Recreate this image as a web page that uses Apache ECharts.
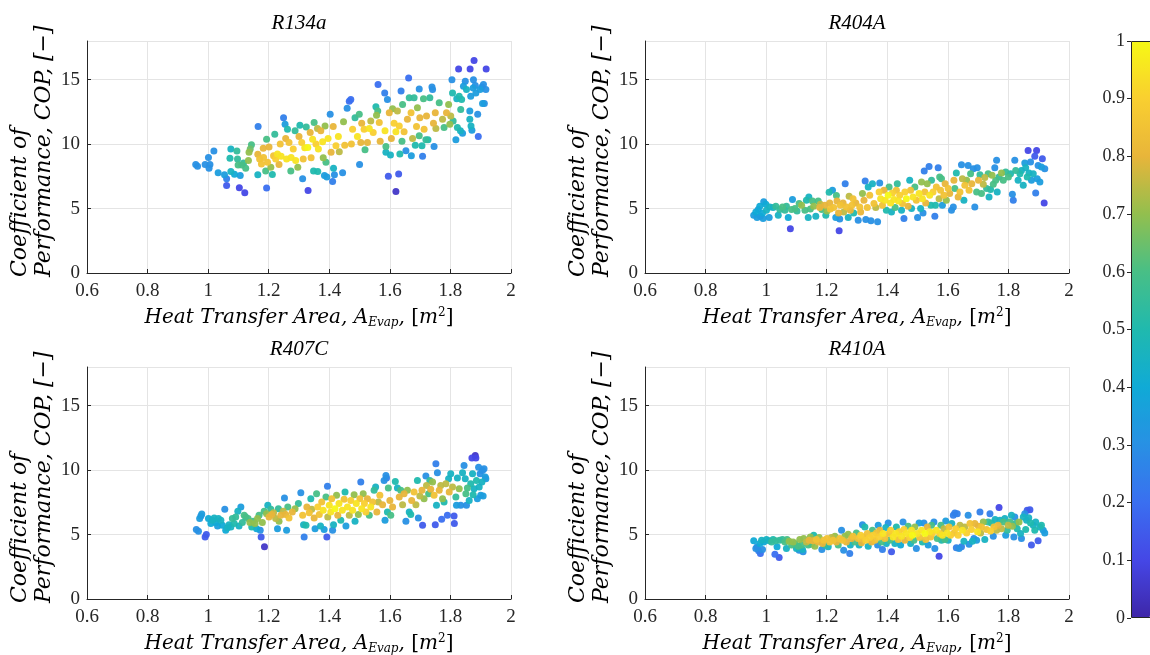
<!DOCTYPE html>
<html><head><meta charset="utf-8">
<script src="https://cdn.jsdelivr.net/npm/echarts@6/dist/echarts.min.js"></script>
<style>html,body{margin:0;padding:0;background:#fff}#c{width:1150px;height:655px}</style>
</head><body><div id="c"></div>
<script>
// ---------------- data ----------------
const refrigerants = ['R134a', 'R404A', 'R407C', 'R410A'];
const xTickValues = [0.6, 0.8, 1, 1.2, 1.4, 1.6, 1.8, 2];
const yTickValues = [0, 5, 10, 15];
const yAxisMax = 18;
const colorTickValues = [0, 0.1, 0.2, 0.3, 0.4, 0.5, 0.6, 0.7, 0.8, 0.9, 1];

// [heat transfer area, COP, colour value]
const r134a = [
[0.959,8.41,.3],[0.965,8.28,.3],[0.990,8.41,.3],[1.001,8.97,.3],[1.006,8.41,.3],[1.003,8.13,.3],[1.019,9.46,.3],[1.033,7.77,.35],[1.054,7.62,.35],[1.061,7.31,.25],
[1.061,6.79,.15],[1.075,9.62,.45],[1.072,8.90,.5],[1.075,7.87,.45],[1.087,7.67,.4],[1.095,9.46,.55],[1.097,8.85,.55],[1.099,8.38,.6],[1.106,7.56,.35],[1.103,6.62,.1],
[1.111,8.38,.6],[1.117,8.54,.55],[1.121,6.23,.1],[1.124,8.13,.6],[1.135,9.36,.7],[1.139,9.62,.65],[1.133,8.72,.7],[1.143,9.95,.6],[1.165,11.36,.25],[1.164,7.62,.45],
[1.164,9.21,.8],[1.170,8.85,.85],[1.176,8.46,.85],[1.182,9.67,.8],[1.183,8.97,.85],[1.193,10.38,.6],[1.193,6.59,.2],[1.190,7.92,.6],[1.196,8.59,.85],[1.201,9.77,.8],
[1.207,8.21,.7],[1.212,7.64,.5],[1.216,9.10,.85],[1.220,10.77,.55],[1.223,8.85,.9],[1.229,9.23,.95],[1.234,8.41,.8],[1.238,10.0,.85],[1.241,9.05,.95],[1.249,12.05,.25],
[1.254,11.54,.35],[1.256,10.44,.8],[1.259,8.85,.95],[1.262,11.15,.5],[1.267,10.13,.85],[1.273,7.92,.6],[1.274,8.97,.95],[1.281,9.62,.9],[1.287,11.03,.55],[1.289,8.72,.95],
[1.296,8.21,.7],[1.300,10.59,.8],[1.303,11.46,.5],[1.309,10.13,.9],[1.312,7.31,.3],[1.314,8.85,.85],[1.319,9.72,.95],[1.324,11.33,.55],[1.329,9.74,1],[1.330,6.41,.1],
[1.337,10.90,.8],[1.340,8.95,.85],[1.345,10.38,.95],[1.348,7.92,.5],[1.350,11.67,.6],[1.356,10.0,.9],[1.361,11.21,.75],[1.362,7.87,.5],[1.364,9.62,.95],[1.372,11.03,.8],
[1.378,10.18,.95],[1.380,8.95,.7],[1.384,7.56,.35],[1.386,11.41,.7],[1.389,8.59,.6],[1.392,7.44,.35],[1.396,10.44,.95],[1.403,12.31,.3],[1.406,9.36,.8],[1.411,7.10,.25],
[1.413,11.36,.8],[1.414,8.13,.45],[1.417,7.62,.3],[1.422,9.87,.9],[1.430,10.59,.95],[1.433,9.41,.75],[1.444,7.77,.3],[1.447,11.74,.7],[1.451,9.92,.85],[1.459,12.79,.3],
[1.466,13.33,.2],[1.471,13.46,.2],[1.473,10.0,.85],[1.477,11.15,.9],[1.485,12.05,.55],[1.493,10.59,.95],[1.499,12.31,.6],[1.500,8.41,.3],[1.504,10.13,.8],[1.507,11.62,.8],
[1.515,11.15,.9],[1.518,9.56,.6],[1.526,10.13,.8],[1.532,11.21,.95],[1.537,11.79,.75],[1.545,10.90,.9],[1.554,12.90,.5],[1.556,12.23,.7],[1.560,12.56,.6],[1.561,14.62,.2],
[1.565,11.67,.85],[1.568,10.23,.8],[1.583,13.97,.25],[1.584,11.03,.95],[1.587,9.82,.6],[1.587,9.36,.45],[1.592,13.46,.3],[1.595,7.51,.15],[1.598,12.44,.8],[1.602,9.15,.45],
[1.605,10.44,.8],[1.609,12.74,.7],[1.614,11.62,.9],[1.620,10.95,.95],[1.620,6.33,.05],[1.625,12.56,.75],[1.629,7.69,.15],[1.631,11.41,.9],[1.633,9.23,.5],[1.637,14.13,.25],
[1.640,10.23,.6],[1.642,13.08,.6],[1.647,10.95,.85],[1.653,9.49,.3],[1.658,11.92,.8],[1.662,15.13,.2],[1.664,13.59,.55],[1.670,12.44,.85],[1.671,9.10,.35],[1.675,10.44,.75],
[1.680,13.59,.55],[1.684,9.92,.5],[1.688,11.36,.85],[1.691,12.82,.7],[1.697,14.28,.3],[1.697,10.64,.6],[1.699,12.05,.8],[1.706,9.87,.5],[1.708,9.05,.25],[1.711,13.51,.6],
[1.713,11.15,.85],[1.719,10.33,.55],[1.721,12.18,.8],[1.726,10.33,.5],[1.732,13.59,.55],[1.739,14.44,.3],[1.741,14.23,.3],[1.744,11.62,.8],[1.746,9.82,.3],[1.750,12.44,.8],
[1.752,11.21,.75],[1.763,13.21,.6],[1.774,11.92,.75],[1.779,11.28,.6],[1.787,12.44,.8],[1.794,13.08,.7],[1.798,11.54,.7],[1.801,12.18,.75],[1.805,15.0,.3],[1.807,13.97,.5],
[1.809,11.79,.55],[1.818,10.33,.35],[1.821,13.51,.45],[1.823,11.28,.5],[1.827,15.82,.1],[1.829,13.72,.5],[1.833,11.03,.45],[1.834,12.69,.55],[1.837,13.46,.5],[1.840,10.85,.35],
[1.843,14.49,.35],[1.849,14.87,.3],[1.853,14.23,.45],[1.864,12.56,.35],[1.864,11.92,.45],[1.865,15.82,.1],[1.867,13.72,.35],[1.868,11.41,.45],[1.871,11.08,.35],[1.875,14.36,.35],
[1.876,15.0,.3],[1.878,16.49,.1],[1.882,14.54,.3],[1.884,13.97,.35],[1.890,12.31,.3],[1.892,10.59,.2],[1.898,14.23,.35],[1.904,14.44,.3],[1.906,13.15,.35],[1.909,14.62,.3],
[1.912,13.15,.3],[1.918,15.82,.1],[1.917,14.23,.3]
];

const r404a = [
[0.959,4.48,.35],[0.966,4.74,.4],[0.970,4.30,.35],[0.974,4.92,.35],[0.979,5.18,.4],[0.981,4.41,.3],[0.988,4.66,.4],[0.990,4.23,.35],[0.992,5.52,.35],[0.999,5.34,.4],
[1.001,4.87,.45],[1.010,4.30,.35],[1.012,5.13,.45],[1.023,5.08,.45],[1.032,5.18,.55],[1.040,4.48,.45],[1.045,4.92,.55],[1.054,5.13,.6],[1.062,4.87,.55],[1.067,5.18,.55],
[1.073,4.30,.4],[1.080,3.43,.1],[1.084,4.92,.6],[1.087,5.70,.35],[1.095,5.0,.6],[1.102,4.82,.55],[1.109,5.39,.6],[1.117,5.26,.7],[1.128,4.87,.6],[1.133,5.64,.5],
[1.139,4.30,.45],[1.141,5.90,.45],[1.146,4.97,.6],[1.153,5.59,.6],[1.157,5.18,.7],[1.164,4.41,.45],[1.172,5.59,.6],[1.177,5.08,.8],[1.179,5.34,.75],[1.184,4.92,.6],
[1.194,5.26,.8],[1.197,4.48,.5],[1.201,4.82,.7],[1.208,6.26,.5],[1.210,5.44,.8],[1.212,4.97,.85],[1.219,6.42,.35],[1.223,5.08,.85],[1.230,4.30,.35],[1.232,6.01,.6],
[1.234,5.59,.8],[1.239,4.66,.8],[1.241,3.27,.1],[1.243,4.18,.3],[1.245,5.26,.85],[1.254,5.44,.8],[1.256,4.74,.75],[1.261,6.93,.25],[1.265,5.13,.85],[1.271,4.30,.45],
[1.274,5.95,.75],[1.278,4.87,.8],[1.283,5.26,.85],[1.287,5.77,.85],[1.289,4.66,.5],[1.296,5.44,.8],[1.304,4.10,.3],[1.309,5.13,.85],[1.312,4.74,.8],[1.318,6.16,.7],
[1.323,5.64,.8],[1.327,7.14,.25],[1.329,4.15,.3],[1.334,5.08,.85],[1.337,6.68,.45],[1.342,6.03,.85],[1.346,4.05,.3],[1.351,6.93,.45],[1.356,5.39,.85],[1.362,5.08,.75],
[1.368,3.97,.3],[1.373,6.29,.9],[1.375,6.98,.3],[1.378,5.77,.95],[1.384,5.26,.85],[1.389,6.42,.8],[1.393,5.64,.95],[1.397,4.87,.5],[1.403,6.03,1],[1.406,6.68,.6],
[1.411,5.44,.95],[1.414,4.74,.45],[1.417,6.21,.9],[1.422,5.70,.95],[1.426,5.08,.6],[1.430,6.42,.85],[1.433,6.93,.55],[1.437,5.59,.95],[1.441,6.03,.9],[1.447,4.87,.45],
[1.450,5.39,.85],[1.455,4.23,.25],[1.458,6.29,.9],[1.463,5.77,1],[1.469,5.18,.8],[1.474,7.19,.45],[1.477,6.42,.85],[1.480,5.0,.45],[1.485,5.90,.95],[1.491,6.68,.6],
[1.496,5.64,.85],[1.500,4.30,.3],[1.505,6.16,.95],[1.510,5.0,.45],[1.513,7.06,.7],[1.516,5.77,.95],[1.518,4.66,.3],[1.522,7.91,.25],[1.524,6.29,.85],[1.527,5.44,.8],
[1.532,6.93,.7],[1.538,8.27,.25],[1.540,6.03,.95],[1.544,5.26,.5],[1.546,7.19,.55],[1.551,6.29,.9],[1.557,4.41,.25],[1.559,5.26,.5],[1.562,6.68,.85],[1.568,8.17,.25],
[1.571,5.77,.75],[1.573,7.45,.6],[1.576,6.42,.85],[1.579,7.32,.6],[1.582,5.26,.35],[1.587,6.03,.85],[1.591,6.93,.8],[1.595,5.64,.7],[1.601,6.55,.85],[1.606,6.16,.8],
[1.612,4.87,.3],[1.618,5.13,.3],[1.620,7.19,.8],[1.623,6.55,.6],[1.628,7.76,.5],[1.634,5.90,.8],[1.640,6.29,.85],[1.645,8.40,.3],[1.648,7.32,.75],[1.653,5.64,.45],
[1.656,6.80,.85],[1.662,7.19,.7],[1.667,8.35,.3],[1.670,6.42,.85],[1.675,7.71,.6],[1.679,6.93,.8],[1.684,8.09,.3],[1.689,5.13,.3],[1.695,6.29,.6],[1.697,8.17,.3],
[1.701,7.19,.8],[1.706,7.63,.55],[1.711,6.16,.6],[1.717,6.88,.75],[1.722,7.40,.75],[1.728,6.55,.55],[1.733,7.71,.6],[1.736,5.90,.45],[1.741,6.47,.5],[1.746,7.58,.7],
[1.750,6.88,.6],[1.755,8.17,.3],[1.758,7.19,.6],[1.761,8.74,.3],[1.763,6.29,.45],[1.769,7.45,.55],[1.777,7.76,.7],[1.783,7.19,.6],[1.791,7.84,.55],[1.800,7.45,.6],
[1.807,7.71,.5],[1.813,6.11,.3],[1.816,5.64,.25],[1.821,8.74,.3],[1.824,7.96,.55],[1.832,7.19,.45],[1.838,7.71,.5],[1.843,7.96,.45],[1.849,6.80,.45],[1.854,8.53,.35],
[1.857,8.17,.45],[1.862,7.45,.5],[1.865,9.51,.1],[1.868,7.76,.45],[1.873,8.61,.3],[1.876,7.19,.35],[1.882,7.71,.45],[1.887,9.05,.15],[1.890,6.21,.25],[1.893,9.51,.1],
[1.895,7.32,.35],[1.898,8.35,.3],[1.904,7.06,.35],[1.909,8.22,.35],[1.912,8.87,.15],[1.918,5.44,.1],[1.920,8.09,.3]
];

const r407c = [
[0.961,5.39,.3],[0.968,5.26,.3],[0.972,6.24,.35],[0.976,6.44,.3],[0.979,6.60,.35],[0.990,4.82,.15],[0.994,5.0,.15],[1.001,6.24,.4],[1.009,5.85,.4],[1.014,6.11,.45],
[1.020,6.29,.45],[1.025,5.93,.4],[1.031,5.67,.35],[1.034,6.24,.45],[1.042,6.11,.45],[1.047,5.72,.4],[1.055,6.96,.3],[1.058,5.34,.4],[1.064,5.52,.45],[1.069,5.77,.45],
[1.075,5.59,.45],[1.080,6.24,.55],[1.086,5.85,.5],[1.091,6.37,.55],[1.098,6.80,.45],[1.102,5.67,.45],[1.108,7.14,.35],[1.113,5.93,.55],[1.119,6.49,.6],[1.124,6.37,.55],
[1.132,6.24,.6],[1.138,5.93,.7],[1.144,5.59,.5],[1.149,6.03,.6],[1.155,5.85,.7],[1.160,5.46,.4],[1.163,6.24,.7],[1.168,6.49,.6],[1.172,5.34,.3],[1.175,4.82,.15],
[1.179,5.93,.7],[1.185,6.80,.6],[1.186,4.05,.05],[1.193,6.62,.7],[1.197,7.27,.45],[1.201,6.37,.8],[1.207,6.96,.55],[1.210,6.55,.8],[1.216,6.70,.75],[1.223,6.24,.75],
[1.229,5.46,.35],[1.232,7.01,.55],[1.234,6.03,.7],[1.240,6.49,.8],[1.248,6.80,.75],[1.252,7.84,.3],[1.256,6.55,.8],[1.259,5.34,.35],[1.263,7.14,.6],[1.267,6.29,.85],
[1.278,6.75,.8],[1.287,7.01,.7],[1.298,7.40,.55],[1.306,8.25,.3],[1.312,6.49,.85],[1.315,5.77,.45],[1.317,4.82,.25],[1.323,5.72,.5],[1.326,7.14,.8],[1.334,6.70,.85],
[1.339,7.78,.5],[1.342,6.96,.75],[1.350,6.29,.8],[1.353,5.46,.35],[1.358,8.17,.6],[1.362,7.14,.9],[1.367,6.55,.85],[1.371,5.67,.45],[1.375,7.53,.85],[1.380,6.88,.95],
[1.383,5.39,.35],[1.389,7.91,.6],[1.392,4.82,.15],[1.394,8.74,.25],[1.395,6.37,.75],[1.400,7.27,.95],[1.405,6.75,.95],[1.408,7.78,.85],[1.411,5.34,.3],[1.414,5.77,.45],
[1.419,7.01,1],[1.424,8.04,.7],[1.428,6.49,.8],[1.432,7.40,.95],[1.438,6.11,.5],[1.443,6.88,.95],[1.449,7.73,.85],[1.452,8.30,.5],[1.455,5.67,.35],[1.460,7.14,.95],
[1.466,6.49,.75],[1.471,7.65,.9],[1.477,6.88,.95],[1.482,8.09,.7],[1.485,6.03,.45],[1.489,7.40,.95],[1.496,6.55,.7],[1.501,7.78,.85],[1.504,9.07,.25],[1.507,7.01,.95],
[1.512,8.17,.7],[1.516,7.40,.9],[1.521,6.75,.9],[1.526,7.78,.8],[1.532,6.49,.6],[1.537,7.14,.95],[1.543,7.53,.85],[1.548,8.43,.55],[1.553,8.69,.45],[1.557,6.75,.8],
[1.562,7.53,.75],[1.567,8.04,.85],[1.576,7.32,.8],[1.581,9.20,.3],[1.584,6.11,.35],[1.587,9.59,.3],[1.589,9.38,.25],[1.592,6.75,.5],[1.595,8.61,.6],[1.600,7.65,.8],
[1.603,6.49,.6],[1.609,7.14,.8],[1.618,9.12,.5],[1.625,8.61,.45],[1.631,7.91,.8],[1.636,8.43,.6],[1.642,7.32,.75],[1.647,8.17,.8],[1.653,6.03,.3],[1.658,8.43,.7],
[1.664,6.75,.45],[1.669,6.55,.5],[1.672,7.65,.8],[1.680,8.30,.85],[1.686,7.32,.75],[1.691,9.20,.5],[1.694,6.29,.3],[1.699,7.99,.75],[1.706,8.43,.8],[1.708,5.72,.15],
[1.713,7.78,.7],[1.719,9.54,.3],[1.721,8.81,.75],[1.728,8.17,.6],[1.732,9.20,.55],[1.735,8.51,.8],[1.741,9.07,.7],[1.746,8.04,.85],[1.750,5.77,.15],[1.752,10.49,.25],
[1.754,7.27,.45],[1.757,9.79,.3],[1.763,8.43,.8],[1.768,8.81,.75],[1.771,6.19,.2],[1.774,7.78,.7],[1.779,7.53,.5],[1.785,8.94,.75],[1.790,6.49,.2],[1.794,9.33,.45],
[1.796,8.30,.8],[1.801,9.72,.45],[1.807,8.69,.75],[1.812,6.44,.15],[1.813,5.85,.15],[1.818,7.91,.55],[1.820,7.27,.35],[1.823,9.38,.45],[1.829,8.56,.7],[1.834,7.27,.3],
[1.840,9.79,.45],[1.845,10.36,.3],[1.849,9.33,.45],[1.851,8.17,.6],[1.853,7.27,.3],[1.856,8.61,.6],[1.862,7.65,.45],[1.867,8.94,.5],[1.871,10.93,.1],[1.873,9.72,.45],
[1.875,8.09,.5],[1.878,8.56,.45],[1.882,11.13,.05],[1.884,10.93,.1],[1.886,9.20,.5],[1.889,7.78,.35],[1.893,10.23,.3],[1.895,8.69,.45],[1.898,9.72,.3],[1.900,8.04,.35],
[1.904,9.07,.45],[1.906,9.97,.3],[1.908,7.99,.35],[1.911,10.10,.3],[1.915,9.46,.35],[1.917,9.33,.35]
];

const r410a = [
[0.959,4.51,.4],[0.966,3.92,.3],[0.970,4.05,.3],[0.975,3.74,.25],[0.979,4.30,.4],[0.981,3.53,.2],[0.985,4.56,.45],[0.988,3.84,.3],[0.992,4.43,.4],[1.001,4.61,.45],
[1.010,4.51,.45],[1.018,4.43,.55],[1.023,4.61,.5],[1.029,3.48,.2],[1.032,4.51,.55],[1.036,4.05,.4],[1.043,3.22,.15],[1.045,4.56,.55],[1.054,4.61,.55],[1.062,4.43,.6],
[1.067,3.92,.45],[1.069,4.61,.6],[1.076,4.48,.7],[1.084,4.18,.6],[1.089,4.43,.7],[1.095,4.30,.6],[1.100,3.92,.45],[1.106,4.10,.6],[1.109,3.79,.3],[1.111,4.61,.7],
[1.117,4.18,.6],[1.120,3.84,.45],[1.122,3.66,.3],[1.124,4.69,.7],[1.133,4.43,.75],[1.139,4.18,.6],[1.142,4.56,.8],[1.146,4.82,.7],[1.150,4.25,.6],[1.155,4.51,.8],
[1.157,4.95,.5],[1.161,4.10,.7],[1.166,4.61,.85],[1.172,4.43,.8],[1.175,4.77,.7],[1.184,3.84,.3],[1.186,4.30,.8],[1.190,4.56,.85],[1.194,4.18,.55],[1.201,4.69,.85],
[1.205,4.05,.45],[1.210,4.43,.85],[1.216,4.77,.75],[1.221,4.56,.85],[1.227,4.87,.7],[1.232,4.43,.8],[1.238,4.18,.6],[1.243,4.69,.85],[1.249,5.34,.3],[1.252,4.56,.85],
[1.256,3.79,.3],[1.260,4.87,.7],[1.265,4.43,.8],[1.271,5.03,.7],[1.276,3.53,.25],[1.278,4.18,.45],[1.282,4.69,.8],[1.287,4.87,.85],[1.293,4.43,.6],[1.298,5.13,.6],
[1.304,4.69,.85],[1.307,4.18,.45],[1.312,4.95,.9],[1.315,4.36,.8],[1.318,5.77,.3],[1.320,4.82,.85],[1.326,5.59,.5],[1.329,4.56,.9],[1.334,5.08,.85],[1.337,4.10,.45],
[1.342,4.77,.9],[1.348,4.43,.8],[1.351,5.34,.6],[1.353,4.95,.9],[1.359,4.56,.85],[1.364,5.13,.85],[1.368,4.18,.3],[1.370,5.72,.35],[1.373,4.82,.9],[1.375,5.34,.8],
[1.381,4.43,.6],[1.384,3.84,.25],[1.386,5.08,.95],[1.392,4.69,.85],[1.395,5.54,.45],[1.397,4.30,.45],[1.403,5.90,.3],[1.406,5.08,.85],[1.408,4.56,.6],[1.411,5.34,.9],
[1.414,3.66,.15],[1.419,4.82,.95],[1.425,4.30,.45],[1.428,5.08,.95],[1.430,5.59,.5],[1.436,4.61,.85],[1.439,5.21,.9],[1.444,4.18,.4],[1.447,4.87,.95],[1.452,5.98,.3],
[1.455,5.39,.9],[1.458,4.56,.8],[1.463,5.08,.95],[1.469,5.64,.6],[1.474,4.77,.9],[1.477,4.30,.45],[1.480,5.34,.95],[1.483,4.95,1],[1.488,4.56,.6],[1.491,5.59,.7],
[1.496,3.92,.3],[1.499,5.08,.95],[1.505,5.90,.35],[1.507,4.77,.85],[1.513,5.34,.95],[1.516,4.43,.5],[1.521,5.90,.3],[1.524,5.08,1],[1.527,4.61,.85],[1.532,5.59,.8],
[1.535,4.18,.35],[1.540,5.21,.95],[1.543,4.82,.85],[1.546,5.72,.6],[1.549,5.13,.9],[1.554,5.98,.3],[1.557,3.92,.3],[1.562,5.34,.95],[1.565,4.69,.6],[1.571,3.32,.1],
[1.573,5.08,.9],[1.577,5.72,.6],[1.579,4.56,.5],[1.582,4.95,.95],[1.587,5.46,.75],[1.590,4.61,.6],[1.593,6.06,.35],[1.598,5.13,.95],[1.601,4.56,.45],[1.604,5.59,.85],
[1.609,4.95,.9],[1.613,5.85,.45],[1.618,6.49,.25],[1.620,5.13,.85],[1.623,6.68,.25],[1.626,5.46,.9],[1.628,3.97,.25],[1.631,6.62,.25],[1.634,4.95,.9],[1.637,3.92,.3],
[1.640,5.72,.75],[1.645,4.05,.25],[1.648,5.34,.95],[1.653,4.48,.45],[1.656,5.59,.75],[1.662,5.13,.9],[1.667,6.49,.3],[1.670,4.25,.3],[1.673,5.85,.85],[1.678,5.39,.9],
[1.681,4.48,.45],[1.686,4.69,.3],[1.689,5.85,.8],[1.695,4.56,.35],[1.698,5.21,.95],[1.701,5.64,.8],[1.706,6.75,.25],[1.708,5.13,.75],[1.711,5.59,.85],[1.717,5.98,.7],
[1.722,4.61,.45],[1.728,5.39,.85],[1.733,5.98,.55],[1.739,6.62,.25],[1.741,5.28,.9],[1.744,5.90,.5],[1.750,4.87,.3],[1.752,5.59,.85],[1.756,6.16,.45],[1.761,5.34,.75],
[1.766,5.72,.8],[1.769,7.09,.1],[1.772,6.11,.45],[1.777,5.46,.75],[1.783,5.98,.6],[1.788,6.24,.45],[1.791,4.95,.35],[1.796,5.34,.55],[1.799,5.72,.75],[1.805,5.98,.6],
[1.810,6.49,.45],[1.813,5.64,.7],[1.818,4.82,.3],[1.821,6.37,.3],[1.824,5.85,.55],[1.829,5.46,.5],[1.835,5.98,.7],[1.840,5.08,.45],[1.843,4.69,.3],[1.849,6.37,.45],
[1.854,6.62,.3],[1.857,5.39,.5],[1.860,6.11,.45],[1.862,6.88,.15],[1.867,6.31,.45],[1.871,6.93,.15],[1.873,5.90,.5],[1.876,4.18,.15],[1.882,5.72,.45],[1.887,5.34,.5],
[1.890,5.98,.45],[1.898,4.51,.15],[1.904,5.59,.45],[1.909,5.72,.5],[1.915,5.34,.35],[1.920,5.13,.35]
];

// parula-like colormap, 0 -> 1
const parula = ['#3E26A8','#4547E6','#3A6FF0','#2890E4','#10AAD6','#20B9AE','#48BF86','#92BF4E','#E8B53A','#F9CF30','#F6F814'];

// ---------------- chart ----------------
const panelData = [r134a, r404a, r407c, r410a];
const FONT = "'Liberation Serif', 'DejaVu Serif', serif";
const TFONT = "'DejaVu Serif', 'Liberation Serif', serif";
const AX = '#262626';
const GRIDC = '#e4e4e4';
const boxes = [
  {left: 87, top: 41}, {left: 645, top: 41},
  {left: 87, top: 367}, {left: 645, top: 367}
];
const W = 424, H = 232;
const xMin = xTickValues[0], xMax = xTickValues[xTickValues.length - 1];
const xStep = +(xTickValues[1] - xTickValues[0]).toFixed(6);
const yStep = yTickValues[1] - yTickValues[0];

const grid = boxes.map(b => ({left: b.left, top: b.top, width: W, height: H, containLabel: false}));
grid.push({left: 1131, top: 41, width: 19, height: 577});

const xAxis = boxes.map((b, i) => ({
  type: 'value', gridIndex: i, min: xMin, max: xMax, interval: xStep,
  axisLine: {show: true, onZero: false, lineStyle: {color: AX, width: 1}},
  axisTick: {show: true, inside: true, length: 4, lineStyle: {color: AX}},
  axisLabel: {color: AX, fontFamily: FONT, fontSize: 19, margin: 9},
  splitLine: {show: true, lineStyle: {color: GRIDC, width: 1}}
}));
xAxis.push({type: 'value', gridIndex: 4, show: false, min: 0, max: 1});

const yAxis = boxes.map((b, i) => ({
  type: 'value', gridIndex: i, min: 0, max: yAxisMax, interval: yStep,
  axisLine: {show: true, onZero: false, lineStyle: {color: AX, width: 1}},
  axisTick: {show: true, inside: true, length: 4, lineStyle: {color: AX}},
  axisLabel: {color: AX, fontFamily: FONT, fontSize: 19, margin: 7, showMaxLabel: false},
  splitLine: {show: true, lineStyle: {color: GRIDC, width: 1}}
}));
yAxis.push({
  type: 'value', gridIndex: 4, min: colorTickValues[0], max: colorTickValues[colorTickValues.length - 1],
  interval: +(colorTickValues[1] - colorTickValues[0]).toFixed(6), position: 'left',
  axisLine: {show: false},
  axisTick: {show: true, inside: false, length: 4, lineStyle: {color: AX}},
  axisLabel: {color: AX, fontFamily: FONT, fontSize: 18, margin: 6},
  splitLine: {show: false}
});

const series = panelData.map((d, i) => ({
  type: 'scatter', xAxisIndex: i, yAxisIndex: i,
  data: d.slice().sort((a, b) => a[2] - b[2]),
  symbol: 'circle', symbolSize: 7,
  itemStyle: {opacity: 0.95},
  emphasis: {disabled: true}, silent: true
}));

const graphic = [];
const italic = {fontFamily: TFONT, fontStyle: 'italic', fontSize: 22, fill: '#000'};
boxes.forEach((b, i) => {
  const cx = b.left + W / 2;
  // panel title
  graphic.push({type: 'text', x: cx, y: b.top - 18, silent: true,
    style: {text: refrigerants[i], align: 'center', verticalAlign: 'middle',
      fontFamily: FONT, fontStyle: 'italic', fontSize: 21, fill: '#000'}});
  // x axis title
  graphic.push({type: 'text', x: cx, y: b.top + H + 45, silent: true,
    style: {
      text: '{i|Heat Transfer Area, A}{s|Evap}{i|, }{r|[}{i|m}{p|2}{r|]}',
      align: 'center', verticalAlign: 'middle', fontFamily: TFONT, fontSize: 20, fill: '#000',
      rich: {
        i: {fontFamily: TFONT, fontStyle: 'italic', fontSize: 20, lineHeight: 22, fill: '#000'},
        r: {fontFamily: TFONT, fontSize: 20, lineHeight: 22, fill: '#000'},
        s: {fontFamily: TFONT, fontStyle: 'italic', fontSize: 12, lineHeight: 14, verticalAlign: 'bottom', fill: '#000'},
        p: {fontFamily: TFONT, fontSize: 12, lineHeight: 12, verticalAlign: 'top', fill: '#000'}
      }
    }});
  // y axis title (two lines, rotated)
  const bottomY = b.top + H + 4;
  graphic.push({type: 'text', x: b.left - 67, y: bottomY, rotation: Math.PI / 2, silent: true,
    style: Object.assign({text: 'Coefficient of', align: 'left', verticalAlign: 'middle'}, italic)});
  graphic.push({type: 'text', x: b.left - 43, y: bottomY, rotation: Math.PI / 2, silent: true,
    style: Object.assign({text: 'Performance, COP, [\u2212]', align: 'left', verticalAlign: 'middle'}, italic)});
});
// colorbar outline
graphic.push({type: 'rect', z: 100, silent: true, shape: {x: 1131.5, y: 41.5, width: 19, height: 576},
  style: {fill: 'none', stroke: AX, lineWidth: 1}});

const chart = echarts.init(document.getElementById('c'), null, {renderer: 'canvas'});
chart.setOption({
  animation: false,
  backgroundColor: '#fff',
  grid, xAxis, yAxis, series, graphic,
  visualMap: {
    type: 'continuous', min: 0, max: 1, dimension: 2, seriesIndex: [0, 1, 2, 3],
    inRange: {color: parula}, calculable: false, hoverLink: false,
    left: 1131, top: 41, itemWidth: 19, itemHeight: 577, padding: 0,
    orient: 'vertical', text: null, showLabel: false
  }
});
</script></body></html>
